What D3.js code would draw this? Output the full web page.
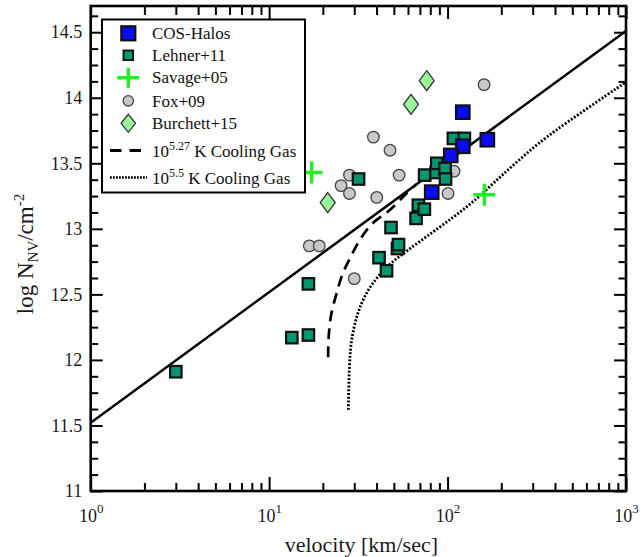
<!DOCTYPE html>
<html>
<head>
<meta charset="utf-8">
<script src="https://cdn.jsdelivr.net/npm/d3@7"></script>
<style>
  html, body { margin: 0; padding: 0; background: #fff; }
  svg, svg text { font-family: "Liberation Serif", "Times New Roman", serif; }
  svg { display: block; }
</style>
</head>
<body>
<svg id="chart" width="641" height="557"></svg>
<script>
// ---- Observations: velocity [km/s] and log column density ----
const cosHalosVel = [121.7, 167.1, 121.7, 104.2, 81.5];
const cosHalosN   = [13.89, 13.68, 13.63, 13.56, 13.28];

const lehnerVel = [3.0, 13.4, 16.6, 16.6, 31.7, 41.3, 45.5, 48.2, 52.4, 53.1,
                   66.6, 68.6, 74.1, 74.4, 86.2, 87.0, 96.8, 97.4, 107.8, 124.2];
const lehnerN   = [11.91, 12.17, 12.19, 12.58, 13.38, 12.78, 12.68, 13.01, 12.85, 12.88,
                   13.08, 13.18, 13.15, 13.41, 13.43, 13.50, 13.46, 13.38, 13.69, 13.69];

const savageVel = [17.3, 160.8];
const savageN   = [13.43, 13.26];

const foxVel = [160.2, 38.4, 47.6, 53.5, 28.2, 25.3, 28.2, 40.1, 108.7, 100.6, 16.8, 19.1, 30.0];
const foxN   = [14.10, 13.70, 13.60, 13.41, 13.41, 13.33, 13.27, 13.24, 13.44, 13.27, 12.87, 12.87, 12.62];

const burchettVel = [76.4, 62.4, 21.3];
const burchettN   = [14.13, 13.95, 13.20];

// ---- Model curves ----
const lineVel = [1, 1000];
const lineN   = [11.52, 14.51];

const cool527Vel = [21.4, 21.6, 22.3, 23.8, 25.7, 28.5, 32.4, 37.9, 47.1, 57.9, 66.7];
const cool527N   = [12.02, 12.19, 12.35, 12.50, 12.65, 12.78, 12.92, 13.04, 13.14, 13.26, 13.34];

const cool55Vel = [27.8, 28.2, 29.0, 31.0, 33.7, 38.4, 47.6, 59.0, 79.8, 107.8,
                   139.5, 184.7, 249.3, 359.8, 1000];
const cool55N   = [11.62, 11.95, 12.15, 12.33, 12.46, 12.59, 12.73, 12.83, 12.96, 13.09,
                   13.21, 13.36, 13.52, 13.70, 14.12];

// ---- Axis ticks ----
const xMajorTicks = [1, 10, 100, 1000];
const xTickExponents = ["0", "1", "2", "3"];
const yTicks = [11, 11.5, 12, 12.5, 13, 13.5, 14, 14.5];
const yTickLabels = ["11", "11.5", "12", "12.5", "13", "13.5", "14", "14.5"];

// ---- Legend entries ----
const legendNames = ["COS-Halos", "Lehner+11", "Savage+05", "Fox+09", "Burchett+15"];

// ---- Layout ----
const W = 641, H = 557;
const margin = { top: 6, right: 15, bottom: 66, left: 90.7 };
const svg = d3.select("#chart");

const x = d3.scaleLog().domain([1, 1000]).range([margin.left, W - margin.right]);
const y = d3.scaleLinear().domain([11, 14.7]).range([H - margin.bottom, margin.top]);

const COL = {
  cos: "#0a0aff", lehner: "#00966e", savage: "#22ee22",
  fox: "#c8c8c8", burchett: "#98f598"
};

svg.append("defs").append("clipPath").attr("id", "plotclip")
  .append("rect")
  .attr("x", x.range()[0]).attr("y", y.range()[1])
  .attr("width", x.range()[1] - x.range()[0])
  .attr("height", y.range()[0] - y.range()[1]);

const plot = svg.append("g").attr("clip-path", "url(#plotclip)");

// ---- Model lines ----
const line = d3.line().x(d => x(d[0])).y(d => y(d[1]));
const curved = d3.line().x(d => x(d[0])).y(d => y(d[1])).curve(d3.curveCatmullRom.alpha(0.5));

plot.append("path")
  .datum(d3.zip(lineVel, lineN))
  .attr("d", line)
  .attr("fill", "none").attr("stroke", "#000").attr("stroke-width", 2.5);

plot.append("path")
  .datum(d3.zip(cool527Vel, cool527N))
  .attr("d", curved)
  .attr("fill", "none").attr("stroke", "#000").attr("stroke-width", 2.7)
  .attr("stroke-dasharray", "11,7");

plot.append("path")
  .datum(d3.zip(cool55Vel, cool55N))
  .attr("d", curved)
  .attr("fill", "none").attr("stroke", "#000").attr("stroke-width", 2.8)
  .attr("stroke-dasharray", "2,1.7");

// ---- Marker helpers ----
function drawSquares(g, pts, size, fill) {
  g.selectAll(null).data(pts).join("rect")
    .attr("x", d => x(d[0]) - size / 2)
    .attr("y", d => y(d[1]) - size / 2)
    .attr("width", size).attr("height", size)
    .attr("fill", fill).attr("stroke", "#111").attr("stroke-width", 2.2);
}
function diamondPath(w, h) {
  return `M0,${-h / 2}L${w / 2},0L0,${h / 2}L${-w / 2},0Z`;
}
function crossPath(w, h) {
  return `M${-w / 2},0H${w / 2}M0,${-h / 2}V${h / 2}`;
}

// Fox+09 circles
plot.append("g").selectAll("circle").data(d3.zip(foxVel, foxN)).join("circle")
  .attr("cx", d => x(d[0])).attr("cy", d => y(d[1])).attr("r", 5.8)
  .attr("fill", COL.fox).attr("stroke", "#444").attr("stroke-width", 1.3);

// Burchett+15 diamonds
plot.append("g").selectAll("path").data(d3.zip(burchettVel, burchettN)).join("path")
  .attr("transform", d => `translate(${x(d[0])},${y(d[1])})`)
  .attr("d", diamondPath(15, 20))
  .attr("fill", COL.burchett).attr("stroke", "#333").attr("stroke-width", 1.3);

// Savage+05 crosses
plot.append("g").selectAll("path").data(d3.zip(savageVel, savageN)).join("path")
  .attr("transform", d => `translate(${x(d[0])},${y(d[1])})`)
  .attr("d", crossPath(22, 22))
  .attr("fill", "none").attr("stroke", COL.savage).attr("stroke-width", 3.4);

// Lehner+11 squares
drawSquares(plot.append("g"), d3.zip(lehnerVel, lehnerN), 11.5, COL.lehner);
// COS-Halos squares
drawSquares(plot.append("g"), d3.zip(cosHalosVel, cosHalosN), 13.5, COL.cos);

// ---- Legend ----
const leg = svg.append("g");
leg.append("rect")
  .attr("x", 102).attr("y", 19.5).attr("width", 203).attr("height", 173)
  .attr("fill", "#fff").attr("stroke", "#000").attr("stroke-width", 2);

const legRows = [33.3, 55.3, 77.7, 100.8, 123.3, 150.5, 177.5];
const mx = 128.3, tx = 152;

leg.append("rect").attr("x", mx - 7).attr("y", legRows[0] - 7).attr("width", 14).attr("height", 14)
  .attr("fill", COL.cos).attr("stroke", "#111").attr("stroke-width", 2.2);
leg.append("rect").attr("x", mx - 4.8).attr("y", legRows[1] - 4.8).attr("width", 9.6).attr("height", 9.6)
  .attr("fill", COL.lehner).attr("stroke", "#111").attr("stroke-width", 1.9);
leg.append("path").attr("transform", `translate(${mx},${legRows[2]})`).attr("d", crossPath(22, 20))
  .attr("fill", "none").attr("stroke", COL.savage).attr("stroke-width", 3.4);
leg.append("circle").attr("cx", mx).attr("cy", legRows[3]).attr("r", 5.2)
  .attr("fill", COL.fox).attr("stroke", "#444").attr("stroke-width", 1.3);
leg.append("path").attr("transform", `translate(${mx},${legRows[4]})`).attr("d", diamondPath(14.5, 18))
  .attr("fill", COL.burchett).attr("stroke", "#333").attr("stroke-width", 1.3);
leg.append("line").attr("x1", 110).attr("x2", 141).attr("y1", legRows[5]).attr("y2", legRows[5])
  .attr("stroke", "#000").attr("stroke-width", 3).attr("stroke-dasharray", "11.5,8");
leg.append("line").attr("x1", 110).attr("x2", 147).attr("y1", legRows[6]).attr("y2", legRows[6])
  .attr("stroke", "#000").attr("stroke-width", 2.6).attr("stroke-dasharray", "1.8,1.2");

legendNames.forEach((name, i) => {
  leg.append("text").attr("x", tx).attr("y", legRows[i]).attr("dy", "0.34em")
    .attr("font-size", 17).attr("fill", "#111").text(name);
});
[["5.27", legRows[5]], ["5.5", legRows[6]]].forEach(([exp, ry]) => {
  const t = leg.append("text").attr("x", tx).attr("y", ry + 6.5)
    .attr("font-size", 17).attr("fill", "#111");
  t.append("tspan").text("10");
  t.append("tspan").attr("dy", -7.5).attr("font-size", 12).text(exp);
  t.append("tspan").attr("dy", 7.5).text(" K Cooling Gas");
});

// ---- Axes ----
function styleAxis(g) {
  g.select(".domain").remove();
  g.selectAll(".tick line").attr("stroke", "#000").attr("stroke-width", 2);
  g.attr("font-family", null).attr("font-size", null);
}
const yMinor = d3.range(11.125, 14.7, 0.125).filter(v => Math.abs(v * 2 - Math.round(v * 2)) > 1e-6);
const xMinor = x.ticks().filter(v => !xMajorTicks.includes(v));

// left
svg.append("g").attr("transform", `translate(${margin.left},0)`)
  .call(d3.axisLeft(y).tickValues(yMinor).tickSize(-7.5).tickFormat(() => "")).call(styleAxis);
svg.append("g").attr("transform", `translate(${margin.left},0)`)
  .call(d3.axisLeft(y).tickValues(yTicks).tickSize(-12).tickPadding(8.5)
    .tickFormat((d, i) => yTickLabels[i]))
  .call(styleAxis)
  .call(g => g.selectAll(".tick text").attr("font-size", 18).attr("fill", "#1a1a1a"));
// right
svg.append("g").attr("transform", `translate(${W - margin.right},0)`)
  .call(d3.axisRight(y).tickValues(yMinor).tickSize(-7.5).tickFormat(() => "")).call(styleAxis);
svg.append("g").attr("transform", `translate(${W - margin.right},0)`)
  .call(d3.axisRight(y).tickValues(yTicks).tickSize(-12).tickFormat(() => "")).call(styleAxis);
// top
svg.append("g").attr("transform", `translate(0,${margin.top})`)
  .call(d3.axisTop(x).tickValues(xMinor).tickSize(-9).tickFormat(() => "")).call(styleAxis);
svg.append("g").attr("transform", `translate(0,${margin.top})`)
  .call(d3.axisTop(x).tickValues(xMajorTicks).tickSize(-13).tickFormat(() => "")).call(styleAxis);
// bottom
svg.append("g").attr("transform", `translate(0,${H - margin.bottom})`)
  .call(d3.axisBottom(x).tickValues(xMinor).tickSize(-8).tickFormat(() => "")).call(styleAxis);
svg.append("g").attr("transform", `translate(0,${H - margin.bottom})`)
  .call(d3.axisBottom(x).tickValues(xMajorTicks).tickSize(-14).tickFormat(() => ""))
  .call(styleAxis)
  .call(g => g.selectAll(".tick text").each(function (d, i) {
    const t = d3.select(this).attr("y", 31).attr("dy", null)
      .attr("font-size", 18).attr("fill", "#1a1a1a").text(null);
    t.append("tspan").text("10");
    t.append("tspan").attr("dy", -9).attr("font-size", 13).text(xTickExponents[i]);
  }));

// frame
svg.append("rect")
  .attr("x", x.range()[0]).attr("y", y.range()[1])
  .attr("width", x.range()[1] - x.range()[0])
  .attr("height", y.range()[0] - y.range()[1])
  .attr("fill", "none").attr("stroke", "#000").attr("stroke-width", 2.6);

// ---- Axis titles ----
svg.append("text")
  .attr("x", (x.range()[0] + x.range()[1]) / 2 + 3).attr("y", 552)
  .attr("text-anchor", "middle").attr("font-size", 22).attr("fill", "#1a1a1a")
  .text("velocity [km/sec]");

const yt = svg.append("text")
  .attr("transform", "translate(33,254) rotate(-90)")
  .attr("text-anchor", "middle").attr("font-size", 23).attr("fill", "#1a1a1a");
yt.append("tspan").text("log N");
yt.append("tspan").attr("dy", 5).attr("font-size", 15).text("NV");
yt.append("tspan").attr("dy", -5).text("/cm");
yt.append("tspan").attr("dy", -9).attr("font-size", 15).text("-2");
</script>
</body>
</html>
